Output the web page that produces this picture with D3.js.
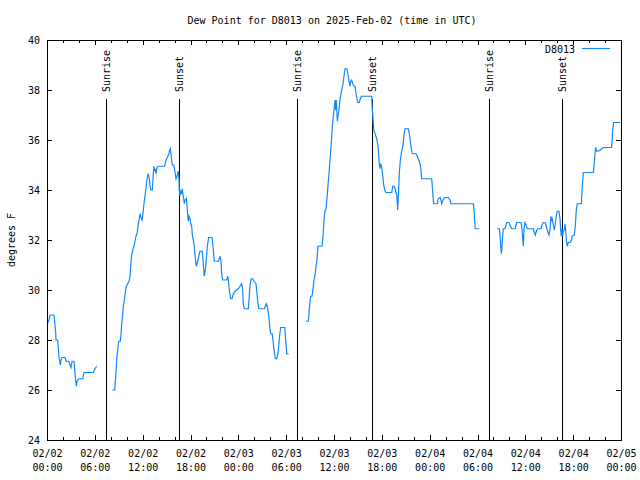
<!DOCTYPE html>
<html><head><meta charset="utf-8">
<script src="https://cdn.jsdelivr.net/npm/d3@7"></script>
<style>
body{margin:0;background:#fff;}
text{font-family:"DejaVu Sans Mono","Liberation Mono",monospace;font-size:10px;fill:#000;}
</style></head><body>
<svg id="c" width="640" height="480"></svg>
<script>
// hours since 2025-02-02 00:00 UTC ; null = gap
const timeHours = [
0.16,0.38,0.88,1.09,1.13,1.34,1.51,1.67,1.76,1.88,2.26,2.38,2.72,2.89,3.01,3.14,3.39,3.47,3.60,3.68,3.76,3.98,4.48,4.64,5.81,6.02,6.23,
null,
8.19,8.49,8.57,8.66,8.74,8.87,8.99,9.19,9.28,9.37,9.50,9.57,9.70,9.82,9.95,10.12,10.29,10.41,10.50,10.62,10.79,10.91,11.04,11.16,11.29,11.41,11.54,11.67,11.79,11.92,12.00,12.08,12.20,12.33,12.46,12.58,12.71,12.83,12.92,13.01,13.21,13.26,13.33,13.42,13.51,13.59,13.67,13.76,13.92,14.76,14.89,15.01,15.14,15.27,15.34,15.47,15.55,15.64,15.72,15.89,16.02,16.09,16.18,16.31,16.39,16.47,16.56,16.59,16.68,16.77,16.90,16.97,17.06,17.15,17.22,17.31,17.40,17.47,17.56,17.65,17.72,17.81,17.94,18.03,18.15,18.23,18.35,18.48,18.56,18.65,18.73,18.82,18.94,19.07,19.19,19.48,19.57,19.66,19.73,19.86,19.98,20.11,20.28,20.70,20.82,20.99,21.49,21.61,21.70,21.83,21.91,22.04,22.54,22.67,22.74,22.87,23.04,23.21,23.37,23.58,23.80,24.00,24.21,24.42,24.55,24.62,24.75,25.25,25.34,25.46,25.59,25.80,25.97,26.22,26.34,26.47,26.56,27.26,27.38,27.51,27.63,27.81,27.93,28.06,28.26,28.39,28.51,28.64,28.81,28.94,29.06,29.19,29.31,29.82,29.94,30.07,30.32,
null,
32.49,32.78,32.86,32.95,33.08,33.24,33.37,33.49,33.62,33.74,33.87,33.99,34.50,34.62,34.75,34.87,35.00,35.12,35.25,35.37,35.50,35.63,35.75,35.88,36.00,36.13,36.21,36.29,36.42,36.50,36.63,36.75,36.88,37.00,37.13,37.25,37.38,37.63,37.76,37.88,38.01,38.10,38.22,38.35,38.51,38.64,38.76,38.89,38.97,39.17,39.30,39.43,40.73,40.77,40.86,40.94,41.02,41.15,41.36,41.52,41.65,41.77,41.86,41.99,42.11,42.24,42.36,42.49,43.24,43.37,43.57,43.74,43.87,43.99,44.07,44.19,44.32,44.49,44.66,44.78,44.91,45.32,45.45,45.57,45.70,45.82,46.29,46.45,46.63,46.79,46.91,47.00,48.26,48.33,48.42,48.51,48.96,49.08,49.30,49.42,49.51,49.67,49.92,50.34,50.55,50.68,53.48,53.56,53.65,53.72,54.23,
null,
56.49,56.74,56.82,56.91,56.99,57.07,57.16,57.24,57.45,57.66,57.91,58.08,58.29,58.70,58.92,59.46,59.58,59.67,59.75,59.83,59.96,60.08,60.25,61.00,61.13,61.25,61.43,61.55,61.97,62.09,62.26,62.47,62.59,62.72,62.84,62.97,63.10,63.22,63.31,63.38,63.51,63.63,63.76,63.88,64.01,64.22,64.35,64.44,64.51,64.60,64.68,64.76,64.89,64.98,65.06,65.14,65.26,65.39,65.60,65.73,65.89,66.14,66.27,66.39,66.52,67.02,67.15,67.27,68.53,68.65,68.74,68.83,68.95,69.15,69.37,69.58,69.78,70.83,70.96,71.08,71.88
];
const dewPoint = [
28.7,29.0,29.0,28.3,28.0,28.0,27.3,27.0,27.2,27.3,27.3,27.15,27.15,27.0,26.9,27.15,27.15,26.8,26.4,26.15,26.35,26.45,26.45,26.7,26.7,26.85,26.95,
null,
26.0,26.0,26.35,26.75,27.2,27.6,27.95,27.95,28.2,28.65,29.05,29.35,29.6,29.9,30.15,30.25,30.35,30.55,30.95,31.4,31.65,31.75,31.95,32.15,32.25,32.55,32.8,33.05,32.9,32.8,32.95,33.2,33.55,33.85,34.2,34.5,34.65,34.45,34.2,34.0,34.0,34.25,34.65,34.95,34.75,34.85,34.65,34.85,34.95,34.95,35.15,35.25,35.35,35.4,35.55,35.65,35.45,35.2,35.0,35.0,34.8,34.65,34.45,34.55,34.65,34.75,34.4,34.0,33.75,33.95,33.85,34.05,33.8,33.65,33.45,33.6,33.6,33.65,33.4,33.0,32.75,32.95,32.85,32.65,32.55,32.2,32.0,31.75,31.4,31.15,30.95,31.05,31.2,31.4,31.55,31.55,31.2,30.8,30.55,30.8,31.2,31.75,32.1,32.1,31.75,31.15,31.15,31.25,31.35,31.15,30.65,30.4,30.4,30.55,30.4,30.0,29.65,29.65,29.85,29.95,30.0,30.05,30.15,30.25,30.0,29.45,29.25,29.25,29.6,30.15,30.45,30.45,30.35,30.25,29.85,29.45,29.25,29.25,29.35,29.45,29.35,29.0,28.55,28.25,28.25,27.85,27.5,27.25,27.25,27.4,27.75,28.2,28.5,28.5,28.0,27.45,27.45,
null,
28.75,28.75,29.05,29.45,29.75,29.75,30.05,30.4,30.6,30.95,31.2,31.75,31.75,32.15,32.8,33.15,33.25,33.65,34.2,34.65,35.2,35.75,36.35,36.85,37.2,37.6,37.2,37.6,36.75,36.95,37.2,37.6,37.85,38.05,38.25,38.55,38.85,38.85,38.6,38.35,38.15,38.35,38.4,38.25,38.15,38.15,37.85,37.65,37.5,37.5,37.65,37.75,37.75,37.4,37.0,36.6,36.35,36.25,36.05,35.75,35.15,34.85,35.05,34.9,34.55,34.2,34.0,33.9,33.9,34.15,34.15,33.95,33.8,33.2,33.75,34.65,35.2,35.55,35.8,36.2,36.45,36.45,36.25,35.95,35.65,35.45,35.45,35.35,35.2,35.05,34.8,34.45,34.45,34.15,33.75,33.45,33.45,33.65,33.7,33.6,33.45,33.6,33.7,33.7,33.6,33.45,33.45,33.2,32.75,32.45,32.45,
null,
32.45,32.45,32.2,31.75,31.45,31.75,32.2,32.45,32.45,32.7,32.7,32.6,32.45,32.45,32.7,32.7,32.45,32.05,31.75,32.45,32.7,32.6,32.45,32.45,32.3,32.2,32.4,32.45,32.45,32.6,32.7,32.7,32.6,32.45,32.3,32.2,32.45,32.95,32.8,32.85,32.6,32.4,32.65,32.95,33.15,33.15,32.85,32.4,32.15,32.45,32.15,32.35,32.4,32.65,32.4,32.0,31.75,31.9,31.9,31.95,32.15,32.2,32.55,33.2,33.45,33.45,34.15,34.7,34.7,35.05,35.45,35.7,35.55,35.55,35.6,35.65,35.7,35.7,36.4,36.7,36.7
];
const sunriseHours = [7.44, 31.40, 55.48];
const sunsetHours = [16.60, 40.73, 64.64];
const yTicks = [24,26,28,30,32,34,36,38,40];
const xMajorTicks = [0,6,12,18,24,30,36,42,48,54,60,66,72];
const xTickDates = ["02/02","02/02","02/02","02/02","02/03","02/03","02/03","02/03","02/04","02/04","02/04","02/04","02/05"];
const xTickTimes = ["00:00","06:00","12:00","18:00","00:00","06:00","12:00","18:00","00:00","06:00","12:00","18:00","00:00"];
const seriesName = "D8013";
const titleText = "Dew Point for D8013 on 2025-Feb-02 (time in UTC)";
const yLabel = "degrees F";

const L=47, R=621, T=40, B=440;
const svg = d3.select("#c");
const x = d3.scaleLinear().domain([0,72]).range([L,R]);
const y = d3.scaleLinear().domain([24,40]).range([B,T]);
const lineColor = "#0f87ff";

svg.append("text").attr("x",332).attr("y",24).attr("text-anchor","middle").text(titleText);
svg.append("text").attr("transform","translate(15,240) rotate(-90)").attr("text-anchor","middle").text(yLabel);

const minorTicks = d3.range(0,73,2);
function noDomain(g){g.select(".domain").remove(); g.selectAll("line").attr("stroke","#000");}
// top edge ticks (pointing down)
svg.append("g").attr("transform",`translate(0,${T})`).attr("shape-rendering","crispEdges")
  .call(d3.axisBottom(x).tickValues(minorTicks).tickSize(3).tickFormat("")).call(noDomain);
svg.append("g").attr("transform",`translate(0,${T})`).attr("shape-rendering","crispEdges")
  .call(d3.axisBottom(x).tickValues(xMajorTicks).tickSize(5).tickFormat("")).call(noDomain);
// bottom edge ticks (pointing up)
svg.append("g").attr("transform",`translate(0,${B})`).attr("shape-rendering","crispEdges")
  .call(d3.axisTop(x).tickValues(minorTicks).tickSize(3).tickFormat("")).call(noDomain);
svg.append("g").attr("transform",`translate(0,${B})`).attr("shape-rendering","crispEdges")
  .call(d3.axisTop(x).tickValues(xMajorTicks).tickSize(5).tickFormat("")).call(noDomain);
// bottom labels
const xl = svg.append("g").attr("transform",`translate(0,${B})`)
  .call(d3.axisBottom(x).tickValues(xMajorTicks).tickSize(0).tickFormat(""));
xl.select(".domain").remove();
xl.selectAll(".tick").each(function(d,i){
  const t = d3.select(this).append("text").attr("text-anchor","middle").attr("fill","#000")
    .style("font-family",'"DejaVu Sans Mono",monospace').style("font-size","10px");
  t.append("tspan").attr("x",0).attr("y",17).text(xTickDates[i]);
  t.append("tspan").attr("x",0).attr("y",31).text(xTickTimes[i]);
});
// y axes
const yl = svg.append("g").attr("transform",`translate(${L},0)`).attr("shape-rendering","crispEdges")
  .call(d3.axisRight(y).tickValues(yTicks).tickSize(5).tickFormat("")).call(noDomain);
svg.append("g").attr("transform",`translate(${R},0)`).attr("shape-rendering","crispEdges")
  .call(d3.axisLeft(y).tickValues(yTicks).tickSize(5).tickFormat("")).call(noDomain);
const ylab = svg.append("g").attr("transform",`translate(${L},0)`)
  .call(d3.axisLeft(y).tickValues(yTicks).tickSize(0).tickPadding(7).tickFormat(d3.format("d")));
ylab.select(".domain").remove();
ylab.selectAll("text").style("font-family",'"DejaVu Sans Mono",monospace').style("font-size","10px").attr("fill","#000");

// frame
svg.append("rect").attr("x",L+0.5).attr("y",T+0.5).attr("width",R-L).attr("height",B-T)
  .attr("fill","none").attr("stroke","#000").attr("stroke-width",1);

// sunrise / sunset lines
const events = sunriseHours.map(h=>({h,label:"Sunrise"})).concat(sunsetHours.map(h=>({h,label:"Sunset"})));
events.forEach(e=>{
  const xp = Math.round(x(e.h))+0.5;
  svg.append("line").attr("x1",xp).attr("x2",xp).attr("y1",99).attr("y2",B)
    .attr("stroke","#000").attr("stroke-width",1);
  svg.append("text").attr("transform",`translate(${xp},92) rotate(-90)`)
    .attr("dy","0.35em").attr("text-anchor","start").text(e.label);
});

// data line
const pts = timeHours.map((t,i)=>({t,v:dewPoint[i]}));
svg.append("path").datum(pts)
  .attr("d", d3.line().defined(d=>d.t!==null && d.v!==null).x(d=>x(d.t)).y(d=>y(d.v)))
  .attr("fill","none").attr("stroke",lineColor).attr("stroke-width",1.2);

// legend
svg.append("text").attr("x",575).attr("y",53).attr("text-anchor","end").text(seriesName);
svg.append("line").attr("x1",582).attr("x2",610).attr("y1",48.5).attr("y2",48.5)
  .attr("stroke",lineColor).attr("stroke-width",1.2);
</script></body></html>
